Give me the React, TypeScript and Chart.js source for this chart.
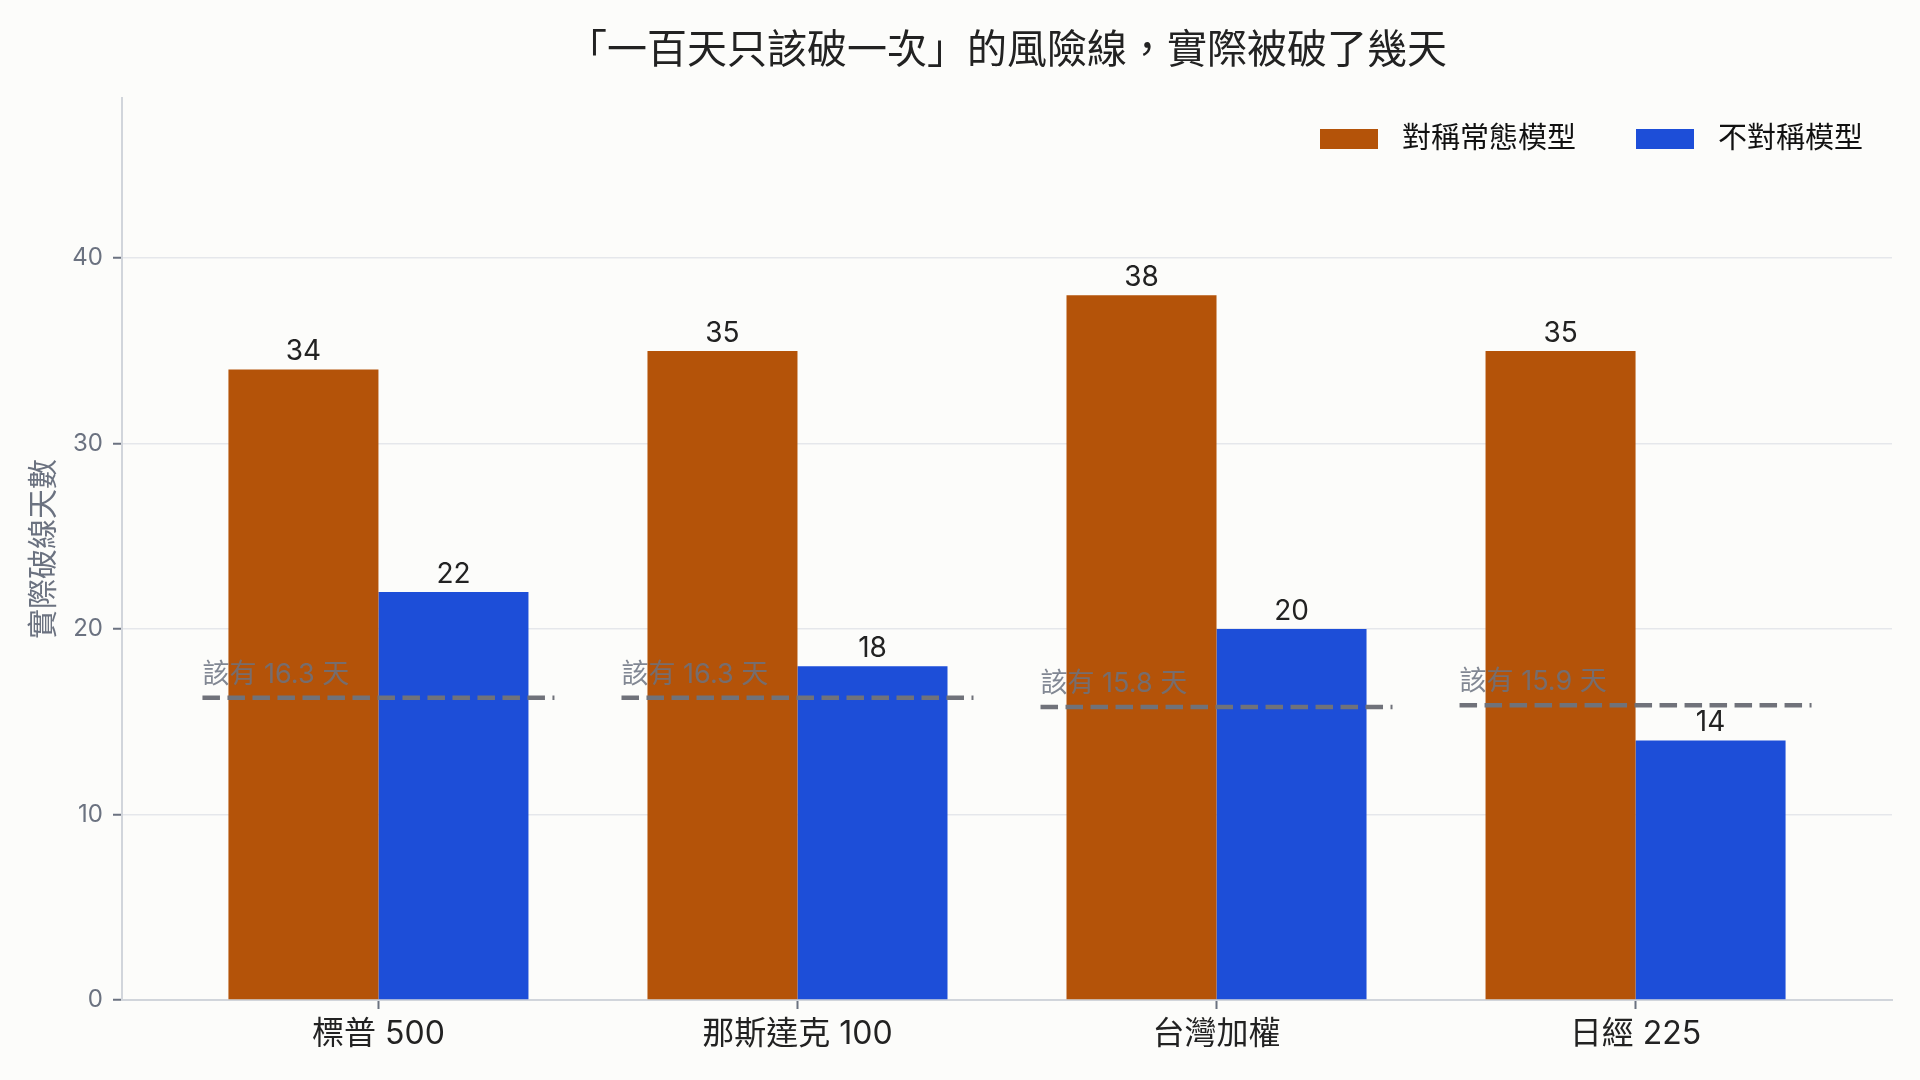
import { useEffect, useRef } from 'react'
import { Chart, registerables } from 'chart.js'
Chart.register(...registerables)

// 指數與各模型實際破線天數
const indices = ['標普 500', '那斯達克 100', '台灣加權', '日經 225']
const seriesNames = ['對稱常態模型', '不對稱模型']
const symmetric = [34, 35, 38, 35]
const asymmetric = [22, 18, 20, 14]
const expected = [16.3, 16.3, 15.8, 15.9]
const yTicks = [0, 10, 20, 30, 40]

const FONT = "Inter, 'Noto Sans CJK TC', sans-serif"
const ORANGE = '#b45309'
const BLUE = '#1d4ed8'
const GRAY = '#6b7280'
const HALF = 0.42

const overlay = {
  id: 'overlay',
  afterDatasetsDraw(chart: any) {
    const { ctx, chartArea, scales: { x, y } } = chart
    const vals = [symmetric, asymmetric]
    ctx.save()
    ctx.textBaseline = 'alphabetic'

    ctx.font = `28px ${FONT}`
    ctx.fillStyle = '#222'
    ctx.textAlign = 'center'
    ;[0, 1].forEach(di => {
      chart.getDatasetMeta(di).data.forEach((el: any, i: number) => {
        ctx.fillText(String(vals[di][i]), el.x, el.y - 9)
      })
    })

    ctx.font = `27px ${FONT}`
    ctx.fillStyle = 'rgba(107,114,128,0.85)'
    ctx.textAlign = 'left'
    expected.forEach((v, i) => {
      ctx.fillText(`該有 ${v.toFixed(1)} 天`, x.getPixelForValue(i - HALF), y.getPixelForValue(v) - 15)
    })

    // legend, top right inside the plot
    ctx.font = `29px ${FONT}`
    ctx.textBaseline = 'middle'
    const colors = [ORANGE, BLUE]
    const cy = chartArea.top + 41
    let cx = chartArea.right - 29
    for (let i = seriesNames.length - 1; i >= 0; i--) {
      const w = ctx.measureText(seriesNames[i]).width
      cx -= w
      ctx.fillStyle = '#111'
      ctx.fillText(seriesNames[i], cx, cy)
      cx -= 24 + 58
      ctx.fillStyle = colors[i]
      ctx.fillRect(cx, cy - 10, 58, 20)
      cx -= 60
    }
    ctx.restore()
  },
}

export default function App() {
  const ref = useRef<HTMLCanvasElement>(null)

  useEffect(() => {
    document.body.style.margin = '0'
    if (!ref.current) return
    const chart = new Chart(ref.current, {
      type: 'bar',
      data: {
        datasets: [
          {
            label: seriesNames[0], type: 'bar', order: 1,
            data: symmetric.map((v, i) => ({ x: i, y: v })),
            backgroundColor: ORANGE,
            categoryPercentage: 0.716, barPercentage: 1,
          },
          {
            label: seriesNames[1], type: 'bar', order: 1,
            data: asymmetric.map((v, i) => ({ x: i, y: v })),
            backgroundColor: BLUE,
            categoryPercentage: 0.716, barPercentage: 1,
          },
          {
            label: '該有', type: 'line', order: 0,
            data: expected.flatMap((v, i) => [
              { x: i - HALF, y: v }, { x: i + HALF, y: v }, { x: i + 0.5, y: null },
            ]),
            borderColor: '#70727a', borderWidth: 4.5, borderDash: [17.5, 7.5],
            pointRadius: 0, fill: false, spanGaps: false,
          },
        ] as any,
      },
      options: {
        responsive: false, animation: false, devicePixelRatio: 1,
        layout: { padding: { left: 0, right: 28, top: 0, bottom: 0 } },
        plugins: {
          legend: { display: false },
          tooltip: { enabled: false },
          title: {
            display: true, fullSize: false,
            text: '「一百天只該破一次」的風險線，實際被破了幾天',
            color: '#222', font: { size: 40, family: FONT, weight: 'normal' },
            padding: { top: 27, bottom: 23 },
          },
        },
        scales: {
          x: {
            type: 'linear', min: -0.612, max: 3.612, offset: false,
            afterBuildTicks: (s: any) => { s.ticks = indices.map((_, i) => ({ value: i })) },
            afterFit: (s: any) => { s.height = 80 },
            ticks: {
              callback: (v: any) => indices[v] ?? '',
              font: { size: 32, family: FONT }, color: '#222', padding: 6,
              autoSkip: false, maxRotation: 0,
            },
            grid: { offset: false, drawOnChartArea: false, tickLength: 9, tickColor: GRAY, tickWidth: 2 },
            border: { color: '#d1d5db', width: 2 },
          },
          y: {
            min: 0, max: 48.64,
            afterBuildTicks: (s: any) => { s.ticks = yTicks.map(v => ({ value: v })) },
            afterFit: (s: any) => { s.width = 122 },
            ticks: { font: { size: 24, family: FONT }, color: GRAY, padding: 10 },
            grid: { color: '#e5e7eb', lineWidth: 1.5, tickColor: GRAY, tickWidth: 2, tickLength: 9 },
            border: { color: '#d1d5db', width: 2 },
            title: {
              display: true, text: '實際破線天數', color: GRAY,
              font: { size: 30, family: FONT }, padding: { top: 26, bottom: 0 },
            },
          },
        },
      },
      plugins: [overlay],
    })
    return () => chart.destroy()
  }, [])

  return (
    <div style={{ width: 1920, height: 1080, background: '#fcfcfa' }}>
      <canvas ref={ref} width={1920} height={1080} style={{ display: 'block' }} />
    </div>
  )
}
